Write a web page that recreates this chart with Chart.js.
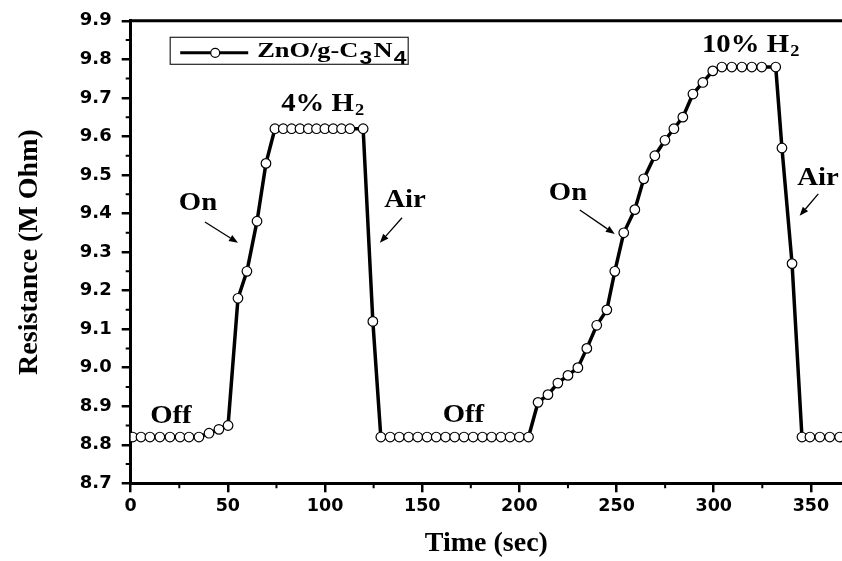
<!DOCTYPE html>
<html><head><meta charset="utf-8">
<script src="https://cdn.jsdelivr.net/npm/chart.js@4/dist/chart.umd.min.js"></script>
<style>html,body{margin:0;padding:0;background:#fff;overflow:hidden}#wrap{width:842px;height:561px}</style>
</head><body><div id="wrap"><canvas id="c" width="842" height="561"></canvas></div>
<script>
// ---- data ----
const timeSec = [
  1, 5.3, 9.9, 15, 20.2, 25.4, 30, 35.1, 40.3, 45.4, 50.1,
  55.2, 59.8, 65.0, 69.6,
  74.2, 78.5, 82.8, 87.1, 91.4, 95.6, 99.9, 104.2, 108.5, 112.8, 119.6,
  124.6, 128.7,
  133.5, 138.2, 143, 147.7, 152.5, 157.2, 162, 166.7, 171.5, 176.2, 181, 185.7, 190.5, 195.2, 200, 204.7,
  209.6, 214.7, 219.8, 225.0, 230.1, 234.7, 239.8, 245.0, 249.1, 253.7, 259.4, 264.0, 269.7, 274.9, 279.5, 284.1, 289.3, 294.4, 299.5,
  304.2, 309.3, 314.5, 319.6, 324.7, 331.9,
  335.1, 340.3, 345.4,
  349.5, 354.6, 359.7, 364.8
];
const resistance = [
  8.82, 8.82, 8.82, 8.82, 8.82, 8.82, 8.82, 8.82, 8.83, 8.84, 8.85,
  9.18, 9.25, 9.38, 9.53,
  9.62, 9.62, 9.62, 9.62, 9.62, 9.62, 9.62, 9.62, 9.62, 9.62, 9.62,
  9.12, 8.82,
  8.82, 8.82, 8.82, 8.82, 8.82, 8.82, 8.82, 8.82, 8.82, 8.82, 8.82, 8.82, 8.82, 8.82, 8.82, 8.82,
  8.91, 8.93, 8.96, 8.98, 9.00, 9.05, 9.11, 9.15, 9.25, 9.35, 9.41, 9.49, 9.55, 9.59, 9.62, 9.65, 9.71, 9.74, 9.77,
  9.78, 9.78, 9.78, 9.78, 9.78, 9.78,
  9.57, 9.27, 8.82,
  8.82, 8.82, 8.82, 8.82
];
const seriesMain = ['ZnO/g-C', 'N'];
const seriesSubs = ['3', '4'];
const xTickStep = 50;
const yTickStep = 0.1;

// annotation texts (anchored in data units)
const noteText = ['Off', 'On', '4% H', 'Air', 'Off', 'On', '10% H', 'Air'];
const noteSub  = ['', '', '2', '', '', '', '2', ''];
const noteAtX  = [20.7, 34.6, 98.5, 141.2, 171.2, 225, 318.7, 353.6];
const noteAtY  = [8.873, 9.427, 9.684, 9.433, 8.876, 9.453, 9.837, 9.49];
// arrows [fromX, fromY, toX, toY] in data units
const arrowFromX = [38.2, 139.6, 231.1, 353.8];
const arrowFromY = [9.378, 9.389, 9.409, 9.451];
const arrowToX   = [55.2, 128.2, 249.1, 344.2];
const arrowToY   = [9.324, 9.324, 9.347, 9.394];

const points = timeSec.map((t, i) => ({x: t, y: resistance[i]}));

function drawSubText(ctx, main, sub, cx, cy, mainFont, subFont, align) {
  ctx.font = mainFont;
  const wm = ctx.measureText(main).width;
  ctx.font = subFont;
  const ws = sub ? ctx.measureText(sub).width : 0;
  const total = wm + ws;
  let x0 = align === 'left' ? cx : cx - total / 2;
  ctx.textBaseline = 'middle';
  ctx.textAlign = 'left';
  ctx.font = mainFont;
  ctx.fillText(main, x0, cy);
  if (sub) {
    ctx.font = subFont;
    ctx.fillText(sub, x0 + wm + 1, cy + 7);
  }
  return total;
}

const decor = {
  id: 'decor',
  beforeDraw(chart) {
    const ctx = chart.ctx;
    ctx.save();
    ctx.fillStyle = '#fff';
    ctx.fillRect(0, 0, chart.width, chart.height);
    ctx.restore();
  },
  afterDraw(chart) {
    const {ctx, chartArea: ca, scales: {x, y}} = chart;
    ctx.save();
    ctx.strokeStyle = '#000';
    ctx.fillStyle = '#000';
    // top frame line
    ctx.lineWidth = 3;
    ctx.beginPath();
    ctx.moveTo(ca.left - 1.5, ca.top);
    ctx.lineTo(ca.right, ca.top);
    ctx.stroke();
    // minor ticks
    ctx.lineWidth = 2;
    ctx.beginPath();
    for (let v = xTickStep / 2; v <= x.max; v += xTickStep) {
      const px = x.getPixelForValue(v);
      ctx.moveTo(px, ca.bottom);
      ctx.lineTo(px, ca.bottom + 5);
    }
    for (let k = 0; k < 12; k++) {
      const v = y.min + yTickStep * (k + 0.5);
      const py = y.getPixelForValue(v);
      ctx.moveTo(ca.left, py);
      ctx.lineTo(ca.left - 5, py);
    }
    ctx.stroke();
    // annotations
    const mainFont = 'bold 25px "Liberation Serif"';
    const subFont = 'bold 16px "Liberation Serif"';
    noteText.forEach((txt, i) => {
      const px = x.getPixelForValue(noteAtX[i]);
      const py = y.getPixelForValue(noteAtY[i]);
      ctx.save();
      ctx.translate(px, py);
      ctx.scale(1.15, 1);
      drawSubText(ctx, txt, noteSub[i], 0, 0, mainFont, subFont, 'center');
      ctx.restore();
    });
    // arrows
    ctx.lineWidth = 1.3;
    arrowFromX.forEach((fx, i) => {
      const x1 = x.getPixelForValue(fx), y1 = y.getPixelForValue(arrowFromY[i]);
      const x2 = x.getPixelForValue(arrowToX[i]), y2 = y.getPixelForValue(arrowToY[i]);
      const ang = Math.atan2(y2 - y1, x2 - x1);
      const hl = 9, hw = 3.5;
      const bx = x2 - hl * Math.cos(ang), by = y2 - hl * Math.sin(ang);
      ctx.beginPath();
      ctx.moveTo(x1, y1);
      ctx.lineTo(bx, by);
      ctx.stroke();
      ctx.beginPath();
      ctx.moveTo(x2, y2);
      ctx.lineTo(bx + hw * Math.sin(ang), by - hw * Math.cos(ang));
      ctx.lineTo(bx - hw * Math.sin(ang), by + hw * Math.cos(ang));
      ctx.closePath();
      ctx.fill();
    });
    // legend box
    const lx = ca.left + 39.5, ly = ca.top + 16.5, lw = 238, lh = 27;
    ctx.lineWidth = 1.2;
    ctx.strokeStyle = '#222';
    ctx.strokeRect(lx, ly, lw, lh);
    const my = ly + lh / 2 + 2;
    ctx.strokeStyle = '#000';
    ctx.lineWidth = 3;
    ctx.beginPath();
    ctx.moveTo(lx + 10, my);
    ctx.lineTo(lx + 78, my);
    ctx.stroke();
    ctx.beginPath();
    ctx.arc(lx + 45, my, 4.5, 0, Math.PI * 2);
    ctx.fillStyle = '#fff';
    ctx.fill();
    ctx.lineWidth = 1.2;
    ctx.stroke();
    ctx.fillStyle = '#000';
    ctx.save();
    ctx.translate(lx + 87, my - 1);
    ctx.scale(1.2, 1);
    let cx0 = 0;
    const lf = 'bold 22px "Liberation Serif"';
    const sf = 'bold 19px "Liberation Sans"';
    seriesMain.forEach((m, i) => {
      const w = drawSubText(ctx, m, seriesSubs[i], cx0, 0, lf, sf, 'left');
      cx0 += w + 2;
    });
    ctx.restore();
    ctx.restore();
  }
};

new Chart(document.getElementById('c'), {
  type: 'line',
  data: {
    datasets: [{
      label: 'ZnO/g-C3N4',
      data: points,
      borderColor: '#000',
      borderWidth: 3.5,
      pointRadius: 4.8,
      pointBackgroundColor: '#fff',
      pointBorderColor: '#000',
      pointBorderWidth: 1.2,
      tension: 0,
      fill: false
    }]
  },
  options: {
    responsive: false,
    animation: false,
    devicePixelRatio: 1,
    layout: {autoPadding: false, padding: {top: 19.5, right: 0, bottom: 0, left: 0}},
    plugins: {legend: {display: false}, tooltip: {enabled: false}},
    scales: {
      x: {
        type: 'linear', min: 0, max: 366,
        afterFit(s) { s.height = 77.7; s.paddingRight = 0; s.paddingLeft = 0; },
        ticks: {stepSize: xTickStep, includeBounds: false, color: '#000', padding: 4, maxRotation: 0,
                font: {family: 'DejaVu Sans', weight: 'bold', size: 17.5}},
        grid: {drawOnChartArea: false, tickLength: 9, lineWidth: 2.5, color: '#000'},
        border: {width: 3, color: '#000'},
        title: {display: true, text: 'Time (sec)', color: '#000', padding: {top: 0, bottom: 0},
                font: {family: 'Liberation Serif', weight: 'bold', size: 28}}
      },
      y: {
        type: 'linear', min: 8.7, max: 9.9,
        afterFit(s) { s.width = 130.7; },
        ticks: {stepSize: yTickStep, color: '#000', padding: 10, callback: v => Number(v).toFixed(1),
                font: {family: 'DejaVu Sans', weight: 'bold', size: 18}},
        grid: {drawOnChartArea: false, tickLength: 9, lineWidth: 2.5, color: '#000'},
        border: {width: 3, color: '#000'},
        title: {display: true, text: 'Resistance (M Ohm)', color: '#000', padding: {top: 13, bottom: 0},
                font: {family: 'Liberation Serif', weight: 'bold', size: 28}}
      }
    }
  },
  plugins: [decor]
});
</script>
</body></html>
